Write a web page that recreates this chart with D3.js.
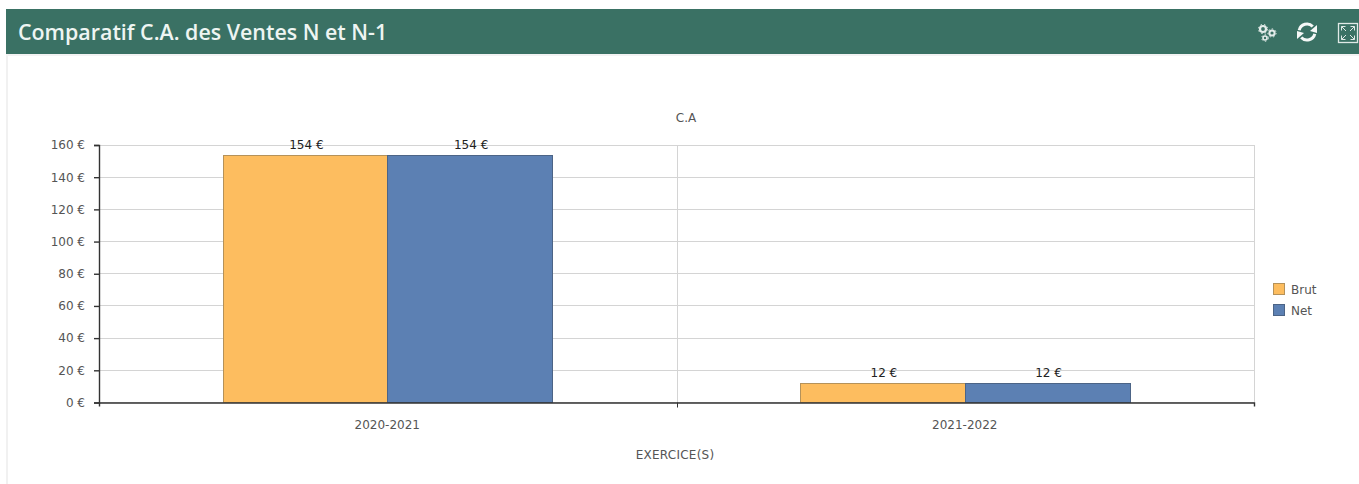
<!DOCTYPE html>
<html>
<head>
<meta charset="utf-8">
<script src="https://cdn.jsdelivr.net/npm/d3@7"></script>
<style>
  html, body { margin: 0; padding: 0; background: #fff; overflow: hidden; }
</style>
</head>
<body>
<div id="canvas"></div>
<script>
"use strict"

// DATA

let categories = ["2020-2021", "2021-2022"];
let seriesNames = ["Brut", "Net"];
let brutValues = [154, 12];
let netValues = [154, 12];
let yTicks = [0, 20, 40, 60, 80, 100, 120, 140, 160];
let seriesColors = ["#fdbd5f", "#5c80b3"];
let seriesBorders = ["#b5925a", "#4c6486"];

let seriesValues = [brutValues, netValues];


// CONFIGURATION VARIABLES

let svgWidth = 1359;
let svgHeight = 484;
let plot = { left: 99, right: 1254, top: 145, bottom: 402.5 };
let chartFont = "'DejaVu Sans', sans-serif";
let textColor = "#555";


// CREATE SVG

let svg = d3.select("#canvas")
    .append("svg")
    .attr("width", svgWidth)
    .attr("height", svgHeight)
    .style("display", "block");


// PANEL AND HEADER

svg.append("rect")
    .attr("x", 6)
    .attr("y", 9)
    .attr("width", 2)
    .attr("height", svgHeight - 9)
    .attr("fill", "#f1f1f1");

svg.append("rect")
    .attr("x", 6)
    .attr("y", 54)
    .attr("width", svgWidth - 6)
    .attr("height", 2)
    .attr("fill", "#f3f3f3");

svg.append("rect")
    .attr("x", 6)
    .attr("y", 9)
    .attr("width", svgWidth - 6)
    .attr("height", 45)
    .attr("fill", "#3a7164");

svg.append("text")
    .attr("x", 18)
    .attr("y", 39.5)
    .attr("fill", "#eef5f2")
    .style("font-family", "'Open Sans', sans-serif")
    .style("font-weight", "600")
    .style("font-size", "21.4px")
    .text("Comparatif C.A. des Ventes N et N-1");


// HEADER ICONS

let gears = [
    { x: 1263, y: 29, r: 3, w: 2.2 },
    { x: 1272, y: 33, r: 2.6, w: 2 },
    { x: 1265, y: 38, r: 2, w: 1.6 }
];

gears.forEach(function(g) {
    svg.append("circle")
        .attr("cx", g.x)
        .attr("cy", g.y)
        .attr("r", g.r)
        .attr("fill", "none")
        .attr("stroke", "#e4ecea")
        .attr("stroke-width", g.w);
    svg.append("circle")
        .attr("cx", g.x)
        .attr("cy", g.y)
        .attr("r", g.r + g.w / 2 + 0.5)
        .attr("fill", "none")
        .attr("stroke", "#e4ecea")
        .attr("stroke-width", 1)
        .attr("stroke-dasharray", "1.5 2.2");
});

let arc = d3.arc().innerRadius(6.5).outerRadius(9.5);
let refresh = svg.append("g").attr("transform", "translate(1307,32)");
refresh.append("path")
    .attr("fill", "#f5f8f7")
    .attr("d", arc({ startAngle: -1.35, endAngle: 0.8 }));
refresh.append("path")
    .attr("fill", "#f5f8f7")
    .attr("d", arc({ startAngle: 1.8, endAngle: 3.95 }));
refresh.append("path")
    .attr("fill", "#f5f8f7")
    .attr("d", "M10,-7L10,1L3,-1Z");
refresh.append("path")
    .attr("fill", "#f5f8f7")
    .attr("d", "M-10,7L-10,-1L-3,1Z");

let expand = svg.append("g")
    .attr("transform", "translate(1338,23)")
    .attr("fill", "none")
    .attr("stroke", "#dfe9e6");
expand.append("rect")
    .attr("x", 0.5)
    .attr("y", 0.5)
    .attr("width", 19)
    .attr("height", 19)
    .attr("stroke-width", 1.3);
expand.append("path")
    .attr("stroke-width", 1)
    .attr("d", "M3.5,3.5L8,8M3.5,3.5H7.5M3.5,3.5V7.5M16.5,3.5L12,8M16.5,3.5H12.5M16.5,3.5V7.5M3.5,16.5L8,12M3.5,16.5H7.5M3.5,16.5V12.5M16.5,16.5L12,12M16.5,16.5H12.5M16.5,16.5V12.5");


// SCALES

let xScale = d3.scaleBand()
    .domain(categories)
    .range([plot.left, plot.right]);

let seriesScale = d3.scaleBand()
    .domain(seriesNames)
    .range([0, xScale.bandwidth()])
    .paddingInner(0)
    .paddingOuter(0.753);

let yScale = d3.scaleLinear()
    .domain([0, 160])
    .range([plot.bottom, plot.top]);


// GRID LINES

svg.selectAll("line.gridY")
    .data(yTicks)
    .join("line")
    .attr("class", "gridY")
    .attr("x1", plot.left)
    .attr("x2", plot.right)
    .attr("y1", function(d) { return Math.floor(yScale(d)) + 0.5; })
    .attr("y2", function(d) { return Math.floor(yScale(d)) + 0.5; })
    .attr("stroke", "#d4d4d4");

svg.selectAll("line.gridX")
    .data(categories)
    .join("line")
    .attr("class", "gridX")
    .attr("x1", function(d) { return Math.round(xScale(d) + xScale.bandwidth()) + 0.5; })
    .attr("x2", function(d) { return Math.round(xScale(d) + xScale.bandwidth()) + 0.5; })
    .attr("y1", plot.top)
    .attr("y2", plot.bottom)
    .attr("stroke", "#d4d4d4");


// DRAW BARS

seriesNames.forEach(function(name, i) {
    svg.selectAll("rect.bar" + i)
        .data(seriesValues[i])
        .join("rect")
        .attr("class", "bar" + i)
        .attr("x", function(d, j) { return Math.floor(xScale(categories[j]) + seriesScale(name)) + 0.5; })
        .attr("y", function(d) { return Math.round(yScale(d)) + 0.5; })
        .attr("width", Math.round(seriesScale.bandwidth()))
        .attr("height", function(d) { return plot.bottom - Math.round(yScale(d)) - 0.5; })
        .attr("fill", seriesColors[i])
        .attr("stroke", seriesBorders[i]);

    svg.selectAll("text.barLabel" + i)
        .data(seriesValues[i])
        .join("text")
        .attr("class", "barLabel" + i)
        .attr("x", function(d, j) { return xScale(categories[j]) + seriesScale(name) + seriesScale.bandwidth() / 2 + 1; })
        .attr("y", function(d) { return yScale(d) - 6; })
        .attr("text-anchor", "middle")
        .attr("fill", "#222")
        .style("font-family", chartFont)
        .style("font-size", "12px")
        .text(function(d) { return d + " €"; });
});


// AXES

let yAxis = d3.axisLeft(yScale)
    .tickValues(yTicks)
    .tickFormat(function(d) { return d + " €"; })
    .tickSize(5)
    .tickPadding(9);

let yAxisG = svg.append("g")
    .attr("transform", "translate(" + plot.left + ",0)")
    .call(yAxis);

let xAxis = d3.axisBottom(xScale)
    .tickValues([])
    .tickSize(4)
    .tickSizeOuter(4);

let xAxisG = svg.append("g")
    .attr("transform", "translate(0," + plot.bottom + ")")
    .call(xAxis);

yAxisG.selectAll("text")
    .attr("fill", textColor)
    .style("font-family", chartFont)
    .style("font-size", "12px");

yAxisG.selectAll("line, path").attr("stroke", "#333").attr("stroke-width", 1.4);
xAxisG.selectAll("line, path").attr("stroke", "#333").attr("stroke-width", 1.4);

// tick between the two years
svg.append("line")
    .attr("x1", Math.round(xScale(categories[1])) + 0.5)
    .attr("x2", Math.round(xScale(categories[1])) + 0.5)
    .attr("y1", plot.bottom)
    .attr("y2", plot.bottom + 5)
    .attr("stroke", "#333");

svg.selectAll("text.catLabel")
    .data(categories)
    .join("text")
    .attr("class", "catLabel")
    .attr("x", function(d) { return xScale(d) + xScale.bandwidth() / 2 - 0.5; })
    .attr("y", 429)
    .attr("text-anchor", "middle")
    .attr("fill", textColor)
    .style("font-family", chartFont)
    .style("font-size", "12px")
    .text(function(d) { return d; });


// TITLES

svg.append("text")
    .attr("x", 686)
    .attr("y", 122)
    .attr("text-anchor", "middle")
    .attr("fill", textColor)
    .style("font-family", chartFont)
    .style("font-size", "12px")
    .text("C.A");

svg.append("text")
    .attr("x", 675)
    .attr("y", 459)
    .attr("text-anchor", "middle")
    .attr("fill", textColor)
    .style("font-family", chartFont)
    .style("font-size", "12px")
    .style("letter-spacing", "0.25px")
    .text("EXERCICE(S)");


// LEGEND

let legendScale = d3.scalePoint()
    .domain(seriesNames)
    .range([289, 310]);

seriesNames.forEach(function(name, i) {
    svg.append("rect")
        .attr("x", 1273.5)
        .attr("y", legendScale(name) - 5.5)
        .attr("width", 11)
        .attr("height", 11)
        .attr("fill", seriesColors[i])
        .attr("stroke", seriesBorders[i]);

    svg.append("text")
        .attr("x", 1291)
        .attr("y", legendScale(name) + 4.5)
        .attr("fill", textColor)
        .style("font-family", chartFont)
        .style("font-size", "12px")
        .text(name);
});
</script>
</body>
</html>
